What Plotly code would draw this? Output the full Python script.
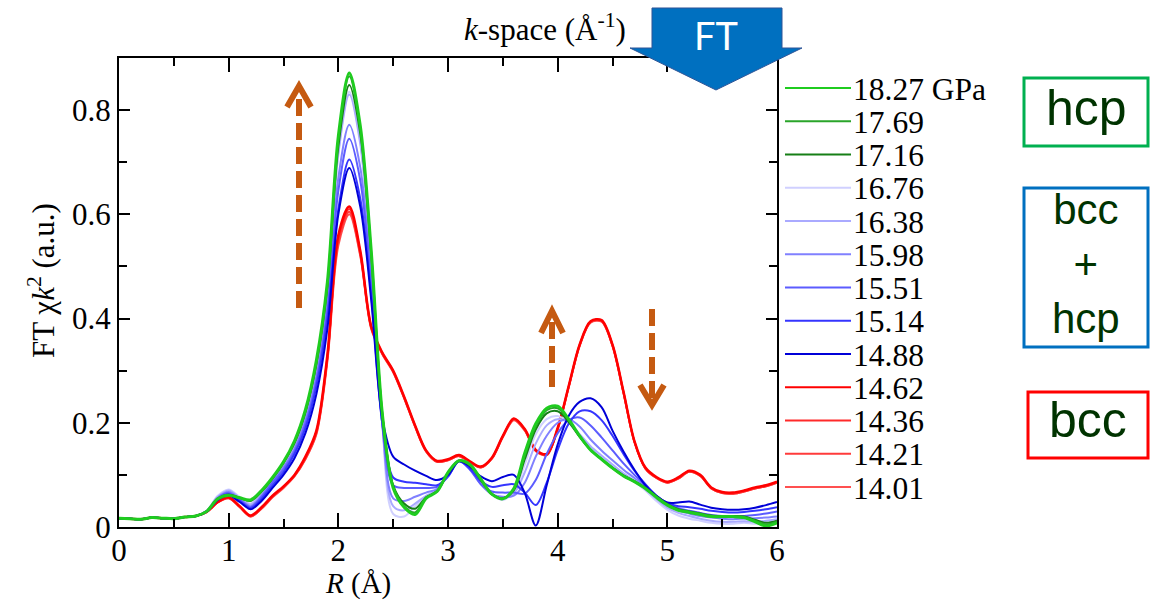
import plotly.graph_objects as go

# ---- data: FT magnitude of chi(k)*k^2 versus R for each pressure ----
R = [i / 10 for i in range(61)]

pressures = ["18.27 GPa", "17.69", "17.16", "16.76", "16.38", "15.98",
             "15.51", "15.14", "14.88", "14.62", "14.36", "14.21", "14.01"]

colors = ["#1fcc1f", "#2aa52a", "#167f16",
          "#d0d0ff", "#aaaaff", "#8080ff", "#5c5cff", "#3535ff", "#0000d8",
          "#ff0000", "#ff2a2a", "#ff3b3b", "#ff5050"]

p1827 = [0.017, 0.016, 0.015, 0.018, 0.017, 0.016, 0.019, 0.021, 0.030, 0.054,
         0.061, 0.056, 0.052, 0.070, 0.095, 0.125, 0.165, 0.225, 0.320, 0.470,
         0.750, 0.871, 0.770, 0.530, 0.220, 0.075, 0.038, 0.024, 0.055, 0.068,
         0.105, 0.127, 0.120, 0.092, 0.063, 0.054, 0.074, 0.142, 0.198, 0.228,
         0.232, 0.207, 0.175, 0.148, 0.130, 0.113, 0.098, 0.087, 0.074, 0.057,
         0.042, 0.032, 0.028, 0.024, 0.020, 0.020, 0.020, 0.018, 0.010, 0.002,
         0.008]
p1769 = [0.017, 0.016, 0.015, 0.018, 0.017, 0.016, 0.019, 0.021, 0.030, 0.054,
         0.061, 0.056, 0.051, 0.069, 0.094, 0.124, 0.163, 0.222, 0.316, 0.465,
         0.745, 0.865, 0.765, 0.527, 0.220, 0.078, 0.040, 0.028, 0.056, 0.068,
         0.104, 0.127, 0.119, 0.091, 0.063, 0.055, 0.072, 0.137, 0.193, 0.224,
         0.228, 0.205, 0.174, 0.148, 0.130, 0.113, 0.098, 0.087, 0.074, 0.058,
         0.043, 0.033, 0.029, 0.025, 0.021, 0.020, 0.020, 0.019, 0.012, 0.005,
         0.010]
p1716 = [0.017, 0.016, 0.015, 0.018, 0.017, 0.016, 0.019, 0.021, 0.030, 0.054,
         0.062, 0.056, 0.050, 0.068, 0.093, 0.123, 0.161, 0.220, 0.312, 0.460,
         0.730, 0.848, 0.755, 0.522, 0.218, 0.080, 0.045, 0.035, 0.057, 0.069,
         0.103, 0.127, 0.118, 0.090, 0.063, 0.055, 0.070, 0.130, 0.187, 0.218,
         0.222, 0.202, 0.173, 0.148, 0.130, 0.114, 0.099, 0.088, 0.075, 0.059,
         0.044, 0.034, 0.030, 0.026, 0.022, 0.021, 0.021, 0.020, 0.014, 0.008,
         0.012]
p1676 = [0.017, 0.016, 0.015, 0.018, 0.017, 0.016, 0.019, 0.021, 0.031, 0.060,
         0.072, 0.058, 0.045, 0.068, 0.095, 0.123, 0.160, 0.218, 0.310, 0.455,
         0.720, 0.835, 0.740, 0.510, 0.200, 0.025, 0.020, 0.040, 0.058, 0.070,
         0.103, 0.128, 0.120, 0.090, 0.062, 0.052, 0.068, 0.120, 0.178, 0.207,
         0.213, 0.200, 0.175, 0.150, 0.133, 0.117, 0.100, 0.087, 0.070, 0.050,
         0.033, 0.022, 0.016, 0.012, 0.008, 0.006, 0.006, 0.008, 0.006, 0.008,
         0.010]
p1638 = [0.017, 0.016, 0.015, 0.018, 0.017, 0.016, 0.019, 0.021, 0.031, 0.058,
         0.070, 0.056, 0.043, 0.065, 0.092, 0.120, 0.157, 0.214, 0.305, 0.450,
         0.715, 0.830, 0.735, 0.505, 0.200, 0.040, 0.032, 0.045, 0.060, 0.071,
         0.102, 0.128, 0.118, 0.088, 0.063, 0.055, 0.064, 0.105, 0.160, 0.195,
         0.207, 0.200, 0.178, 0.155, 0.137, 0.120, 0.103, 0.089, 0.073, 0.054,
         0.037, 0.027, 0.021, 0.016, 0.012, 0.010, 0.010, 0.011, 0.010, 0.012,
         0.015]
p1598 = [0.017, 0.016, 0.015, 0.018, 0.017, 0.016, 0.019, 0.021, 0.030, 0.056,
         0.067, 0.054, 0.040, 0.060, 0.088, 0.115, 0.150, 0.205, 0.290, 0.430,
         0.670, 0.772, 0.690, 0.480, 0.200, 0.055, 0.050, 0.058, 0.066, 0.073,
         0.100, 0.127, 0.113, 0.082, 0.063, 0.058, 0.060, 0.085, 0.135, 0.175,
         0.200, 0.207, 0.193, 0.168, 0.147, 0.128, 0.110, 0.094, 0.077, 0.058,
         0.042, 0.032, 0.026, 0.021, 0.018, 0.016, 0.015, 0.016, 0.017, 0.018,
         0.020]
p1551 = [0.017, 0.016, 0.015, 0.018, 0.017, 0.016, 0.019, 0.021, 0.030, 0.055,
         0.065, 0.052, 0.038, 0.058, 0.085, 0.110, 0.145, 0.198, 0.280, 0.415,
         0.645, 0.745, 0.665, 0.465, 0.200, 0.080, 0.075, 0.075, 0.075, 0.077,
         0.097, 0.126, 0.110, 0.082, 0.068, 0.066, 0.066, 0.064, 0.090, 0.140,
         0.180, 0.205, 0.210, 0.195, 0.172, 0.147, 0.122, 0.100, 0.080, 0.060,
         0.045, 0.036, 0.031, 0.027, 0.023, 0.021, 0.020, 0.021, 0.023, 0.026,
         0.030]
p1514 = [0.017, 0.016, 0.015, 0.018, 0.017, 0.016, 0.019, 0.021, 0.030, 0.053,
         0.063, 0.050, 0.036, 0.054, 0.080, 0.105, 0.140, 0.190, 0.270, 0.400,
         0.610, 0.705, 0.630, 0.445, 0.200, 0.095, 0.087, 0.085, 0.082, 0.080,
         0.097, 0.126, 0.112, 0.088, 0.077, 0.080, 0.082, 0.066, 0.042, 0.085,
         0.148, 0.198, 0.222, 0.222, 0.205, 0.175, 0.140, 0.108, 0.082, 0.060,
         0.046, 0.040, 0.038, 0.035, 0.031, 0.029, 0.028, 0.029, 0.031, 0.034,
         0.038]
p1488 = [0.017, 0.016, 0.015, 0.018, 0.017, 0.016, 0.019, 0.021, 0.030, 0.052,
         0.061, 0.048, 0.034, 0.050, 0.075, 0.100, 0.132, 0.180, 0.255, 0.380,
         0.600, 0.689, 0.615, 0.435, 0.210, 0.135, 0.120, 0.108, 0.098, 0.090,
         0.100, 0.126, 0.116, 0.097, 0.088, 0.096, 0.100, 0.065, 0.003, 0.080,
         0.158, 0.213, 0.240, 0.247, 0.230, 0.185, 0.145, 0.110, 0.080, 0.060,
         0.047, 0.047, 0.049, 0.043, 0.037, 0.034, 0.033, 0.034, 0.037, 0.042,
         0.048]
p1462 = [0.017, 0.016, 0.015, 0.018, 0.017, 0.016, 0.019, 0.021, 0.029, 0.048,
         0.057, 0.040, 0.022, 0.038, 0.060, 0.078, 0.100, 0.135, 0.185, 0.330,
         0.560, 0.615, 0.530, 0.385, 0.335, 0.300, 0.250, 0.195, 0.147, 0.127,
         0.130, 0.138, 0.126, 0.116, 0.133, 0.175, 0.208, 0.188, 0.148, 0.140,
         0.190, 0.270, 0.350, 0.395, 0.397, 0.350, 0.260, 0.165, 0.114, 0.096,
         0.087, 0.095, 0.108, 0.100, 0.076, 0.067, 0.066, 0.070, 0.076, 0.080,
         0.087]
p1436 = [0.017, 0.016, 0.015, 0.018, 0.017, 0.016, 0.019, 0.021, 0.029, 0.048,
         0.056, 0.040, 0.021, 0.037, 0.059, 0.077, 0.099, 0.133, 0.183, 0.326,
         0.553, 0.610, 0.527, 0.384, 0.334, 0.299, 0.249, 0.194, 0.146, 0.126,
         0.129, 0.137, 0.125, 0.115, 0.132, 0.174, 0.207, 0.187, 0.147, 0.139,
         0.189, 0.269, 0.349, 0.394, 0.396, 0.349, 0.259, 0.164, 0.113, 0.095,
         0.086, 0.094, 0.107, 0.099, 0.075, 0.066, 0.065, 0.069, 0.075, 0.079,
         0.086]
p1421 = [0.017, 0.016, 0.015, 0.018, 0.017, 0.016, 0.019, 0.021, 0.029, 0.047,
         0.055, 0.039, 0.020, 0.036, 0.058, 0.076, 0.098, 0.131, 0.180, 0.322,
         0.547, 0.605, 0.523, 0.382, 0.333, 0.298, 0.248, 0.193, 0.145, 0.125,
         0.128, 0.136, 0.124, 0.114, 0.131, 0.173, 0.206, 0.186, 0.146, 0.138,
         0.188, 0.268, 0.348, 0.393, 0.395, 0.348, 0.258, 0.163, 0.112, 0.094,
         0.085, 0.093, 0.106, 0.098, 0.074, 0.065, 0.064, 0.068, 0.074, 0.078,
         0.085]
p1401 = [0.017, 0.016, 0.015, 0.018, 0.017, 0.016, 0.019, 0.021, 0.029, 0.047,
         0.055, 0.038, 0.020, 0.035, 0.057, 0.075, 0.097, 0.130, 0.178, 0.318,
         0.540, 0.600, 0.520, 0.380, 0.332, 0.297, 0.247, 0.192, 0.145, 0.125,
         0.128, 0.136, 0.124, 0.114, 0.131, 0.172, 0.205, 0.185, 0.146, 0.138,
         0.187, 0.267, 0.347, 0.392, 0.394, 0.347, 0.257, 0.163, 0.112, 0.094,
         0.085, 0.093, 0.106, 0.098, 0.074, 0.065, 0.064, 0.068, 0.074, 0.078,
         0.085]

series = [p1827, p1769, p1716, p1676, p1638, p1598,
          p1551, p1514, p1488, p1462, p1436, p1421, p1401]
widths = [3, 2, 2, 2, 2, 2, 2, 2, 2, 2.5, 2, 2, 2]

x_ticks = [0, 1, 2, 3, 4, 5, 6]
y_ticks = [0, 0.2, 0.4, 0.6, 0.8]

# ---- page geometry (pixels) ----
FIG_W, FIG_H = 1153, 602
L, T, W, H = 119, 58, 658, 469


def px(x):
    return (x - L) / W


def py(y):
    return (T + H - y) / H


fig = go.Figure()

# red first, then blues (light to dark), then greens on top
draw_order = [12, 11, 10, 9, 3, 4, 5, 6, 7, 8, 2, 1, 0]
for i in draw_order:
    fig.add_trace(go.Scatter(
        x=R, y=series[i], mode="lines", name=pressures[i],
        line=dict(color=colors[i], width=widths[i], shape="spline", smoothing=0.9),
        showlegend=False, hoverinfo="skip"))

serif = "Liberation Serif, Times New Roman, serif"
sans = "Liberation Sans, Arial, sans-serif"

axis_common = dict(
    showline=True, linecolor="black", linewidth=2, mirror="ticks",
    ticks="inside", tickcolor="black", tickwidth=2,
    showgrid=False, zeroline=False,
    tickfont=dict(family=serif, size=31, color="black"),
)

fig.update_xaxes(range=[0, 6], tickvals=x_ticks, ticklen=14,
                 ticklabelstandoff=-5,
                 minor=dict(dtick=0.5, ticklen=8, ticks="inside",
                            tickcolor="black", tickwidth=2),
                 **axis_common)
fig.update_yaxes(range=[0, 0.9], tickvals=y_ticks,
                 ticktext=["0", "0.2", "0.4", "0.6", "0.8"], ticklen=11,
                 minor=dict(dtick=0.1, ticklen=8, ticks="inside",
                            tickcolor="black", tickwidth=2),
                 **axis_common)

shapes = []
annotations = []

# axis titles
annotations.append(dict(xref="paper", yref="paper", x=px(358), y=py(583),
                        text="<i>R</i> (Å)", showarrow=False,
                        xanchor="center", yanchor="middle",
                        font=dict(family=serif, size=29, color="black")))
annotations.append(dict(xref="paper", yref="paper", x=px(41), y=py(281),
                        text="FT χ<i>k</i><sup>2</sup> (a.u.)", showarrow=False,
                        textangle=-90, xanchor="center", yanchor="middle",
                        font=dict(family=serif, size=31, color="black")))

# legend: swatch lines and pressure labels
row0, row_step = 88, 33.25
for j, (name, col) in enumerate(zip(pressures, colors)):
    yy = row0 + j * row_step
    shapes.append(dict(type="line", xref="paper", yref="paper",
                       x0=px(785), x1=px(851), y0=py(yy), y1=py(yy),
                       line=dict(color=col, width=2)))
    annotations.append(dict(xref="paper", yref="paper", x=px(851), y=py(yy + 1),
                            text=name, showarrow=False, xanchor="left",
                            yanchor="middle", height=33,
                            font=dict(family=serif, size=31.5, color="black")))

# "FT" block arrow
ft_pts = [(652, 8), (782, 8), (782, 48), (802, 48), (716, 90), (630, 48), (652, 48)]
path = "M " + " L ".join(f"{px(a):.5f},{py(b):.5f}" for a, b in ft_pts) + " Z"
shapes.append(dict(type="path", xref="paper", yref="paper", path=path,
                   fillcolor="#0070C0", line=dict(color="#2F5597", width=1),
                   layer="above"))
annotations.append(dict(xref="paper", yref="paper", x=px(716), y=py(35),
                        text="FT", showarrow=False, xanchor="center", yanchor="middle",
                        font=dict(family="Lato, Open Sans, sans-serif", size=38,
                                  color="white")))

annotations.append(dict(xref="paper", yref="paper", x=px(545), y=py(27),
                        text="<i>k</i>-space (Å<sup>-1</sup>)", showarrow=False,
                        xanchor="center", yanchor="middle",
                        font=dict(family=serif, size=31, color="black")))

# dashed trend arrows
orange = "#C55A11"


def dashed_arrow(x, y_tail, y_head, tip, wing_y, half):
    shapes.append(dict(type="line", xref="paper", yref="paper",
                       x0=px(x), x1=px(x), y0=py(y_tail), y1=py(y_head),
                       line=dict(color=orange, width=6, dash="17px,7px"),
                       layer="above"))
    p = (f"M {px(x - half):.5f},{py(wing_y):.5f} L {px(x):.5f},{py(tip):.5f} "
         f"L {px(x + half):.5f},{py(wing_y):.5f}")
    shapes.append(dict(type="path", xref="paper", yref="paper", path=p,
                       line=dict(color=orange, width=6), layer="above"))


dashed_arrow(299, 308, 92, 86, 107, 12)
dashed_arrow(552, 387, 318, 311, 333, 11)
dashed_arrow(652, 309, 398, 405, 385, 12)

# phase boxes
boxes = [((1024, 78, 1148, 146), "#00B050"),
         ((1024, 188, 1148, 347), "#0070C0"),
         ((1028, 392, 1148, 458), "#FF0000")]
for (x0, y0, x1, y1), col in boxes:
    shapes.append(dict(type="rect", xref="paper", yref="paper",
                       x0=px(x0), x1=px(x1), y0=py(y0), y1=py(y1),
                       line=dict(color=col, width=3)))
for txt, xc, yc, fs in [("hcp", 1086, 108, 50), ("bcc<br>+<br>hcp", 1086, 264, 42),
                        ("bcc", 1088, 420, 50)]:
    annotations.append(dict(xref="paper", yref="paper", x=px(xc), y=py(yc),
                            text=txt, showarrow=False, xanchor="center",
                            yanchor="middle",
                            font=dict(family=sans, size=fs, color="#003300")))

fig.update_layout(
    width=FIG_W, height=FIG_H,
    margin=dict(l=L, r=FIG_W - L - W, t=T, b=FIG_H - T - H, autoexpand=False),
    paper_bgcolor="white", plot_bgcolor="white",
    shapes=shapes, annotations=annotations, showlegend=False,
)

fig.write_html("out.html")
